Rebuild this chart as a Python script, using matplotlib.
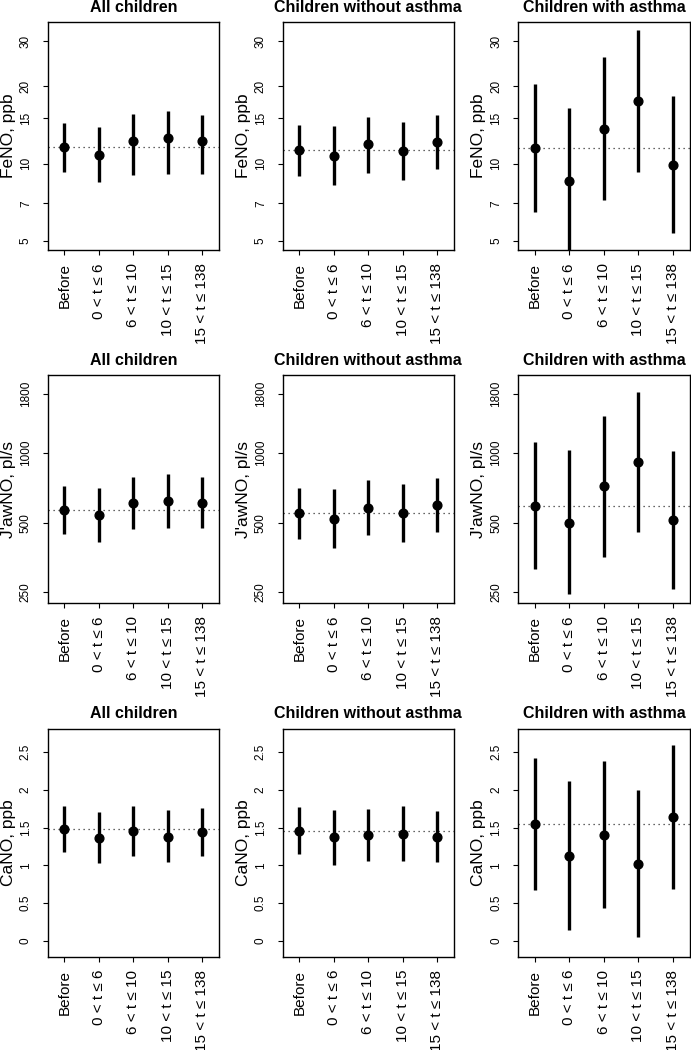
import numpy as np
import matplotlib.pyplot as plt

plt.rcParams["font.family"] = ["Liberation Sans", "DejaVu Sans"]

periods = ["Before", "0 < t ≤ 6", "6 < t ≤ 10", "10 < t ≤ 15", "15 < t ≤ 138"]
groups = ["All children", "Children without asthma", "Children with asthma"]

# rows: all children, without asthma, with asthma
feno_est = [[11.6, 10.8, 12.3, 12.6, 12.3],
            [11.3, 10.75, 11.9, 11.2, 12.15],
            [11.5, 8.57, 13.7, 17.6, 9.9]]
feno_lo = [[9.3, 8.47, 9.0, 9.1, 9.1],
           [8.96, 8.27, 9.23, 8.64, 9.5],
           [6.5, 4.3, 7.24, 9.3, 5.36]]
feno_hi = [[14.4, 13.9, 15.6, 16.0, 15.5],
           [14.2, 14.0, 15.2, 14.5, 15.5],
           [20.4, 16.4, 25.9, 33.2, 18.4]]

jawno_est = [[566, 538, 608, 620, 608],
             [549, 521, 581, 551, 598],
             [594, 500, 720, 913, 512]]
jawno_lo = [[446, 412, 470, 475, 475],
            [424, 388, 441, 415, 458],
            [315, 246, 356, 456, 258]]
jawno_hi = [[720, 709, 790, 816, 787],
            [706, 697, 767, 737, 785],
            [1122, 1036, 1455, 1847, 1018]]

cano_est = [[1.48, 1.36, 1.45, 1.38, 1.44],
            [1.46, 1.38, 1.40, 1.42, 1.38],
            [1.55, 1.12, 1.40, 1.02, 1.635]]
cano_lo = [[1.18, 1.03, 1.13, 1.05, 1.13],
           [1.15, 1.01, 1.06, 1.06, 1.05],
           [0.67, 0.14, 0.43, 0.05, 0.69]]
cano_hi = [[1.79, 1.71, 1.79, 1.73, 1.76],
           [1.78, 1.74, 1.75, 1.79, 1.72],
           [2.43, 2.12, 2.38, 2.00, 2.60]]

measures = [
    ("FeNO, ppb", feno_est, feno_lo, feno_hi, True, (4.61, 35.6),
     [5, 7, 10, 15, 20, 30], ["5", "7", "10", "15", "20", "30"]),
    ("J'awNO, pl/s", jawno_est, jawno_lo, jawno_hi, True, (225, 2180),
     [250, 500, 1000, 1800], ["250", "500", "1000", "1800"]),
    ("CaNO, ppb", cano_est, cano_lo, cano_hi, False, (-0.212, 2.812),
     [0, 0.5, 1, 1.5, 2, 2.5], ["0", "0.5", "1", "1.5", "2", "2.5"]),
]

W, H = 691, 1050
fig = plt.figure(figsize=(W / 100, H / 100), dpi=100)
col_left = [47.7, 282.7, 518.3]
row_top = [22, 375, 728.7]
aw, ah = 171.3, 228

x = np.arange(1, len(periods) + 1)

for r, (ylabel, est, lo, hi, logy, ylim, yticks, ylabs) in enumerate(measures):
    for c, group in enumerate(groups):
        ax = fig.add_axes([col_left[c] / W, 1 - (row_top[r] + ah) / H, aw / W, ah / H])
        if logy:
            ax.set_yscale("log")
        e = np.array(est[c])
        ax.vlines(x, lo[c], hi[c], color="black", lw=2.4, zorder=2)
        ax.plot(x, e, "o", color="black", ms=6.3, zorder=3)
        ax.axhline(e[0], color="#333333", lw=0.9, linestyle=(0, (1, 3)), zorder=1)
        ax.set_xlim(0.516, 5.484)
        ax.set_ylim(*ylim)
        ax.set_yticks(yticks)
        ax.set_yticklabels(ylabs)
        ax.minorticks_off()
        ax.set_xticks(x)
        ax.set_xticklabels(periods, rotation=90, fontsize=11)
        ax.tick_params(axis="y", labelrotation=90, labelsize=8.5, length=3.4, width=0.8, pad=8)
        ax.tick_params(axis="x", length=3.4, width=0.8, pad=6)
        for lab in ax.get_yticklabels():
            lab.set_va("center")
        for s in ax.spines.values():
            s.set_linewidth(1.0)
        ax.text(0.5, 1 + 15 / ah, group, transform=ax.transAxes, ha="center",
                va="center", fontsize=11.5, fontweight="bold")
        ax.text(-39.5 / aw, 0.5, ylabel, transform=ax.transAxes, rotation=90,
                ha="center", va="center", fontsize=12.5)

fig.savefig("out.png", dpi=100)
